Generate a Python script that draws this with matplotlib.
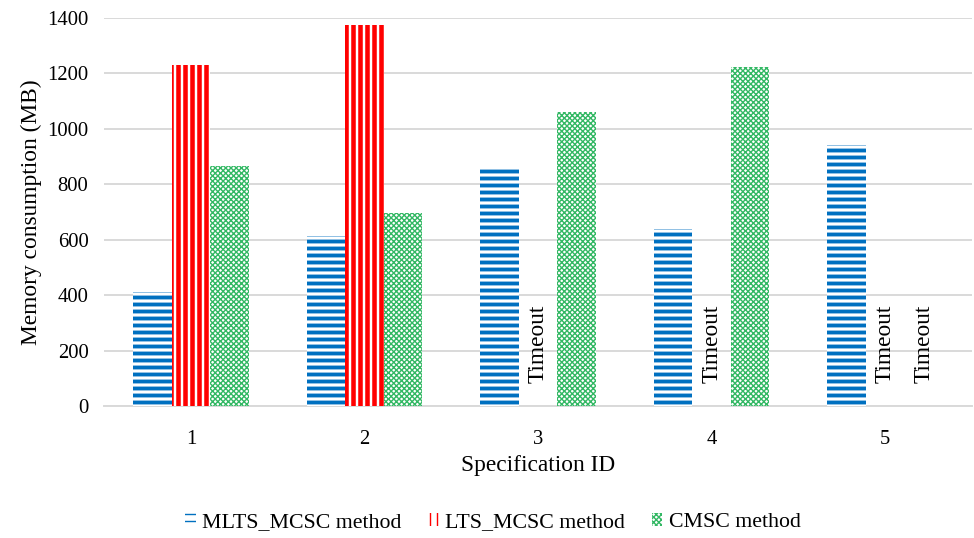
import numpy as np
import matplotlib
matplotlib.use("Agg")
import matplotlib.pyplot as plt

# data
spec_ids = ["1", "2", "3", "4", "5"]
mlts_mcsc = [413, 615, 858, 640, 942]
lts_mcsc = [1231, 1374, None, None, None]
cmsc = [865, 695, 1061, 1224, None]
series_names = ["MLTS_MCSC method", "LTS_MCSC method", "CMSC method"]

DPI = 126
plt.rcParams['font.family'] = ['Liberation Serif', 'DejaVu Serif']
plt.rcParams['font.size'] = 11.8
big = 13.4

fig = plt.figure(figsize=(974 / DPI, 538 / DPI), dpi=DPI)
ax = fig.add_axes([0.107, 0.2454, 0.891, 0.7211])

x = np.arange(len(spec_ids))
w = 0.222

styles = [
    dict(color="#0070C0", hatch="---", lw=2.2),
    dict(color="#FF0000", hatch="|||", lw=2.6),
    dict(color="#33B864", hatch="xxxxxxxx", lw=0.8),
]

handles = []
for i, (vals, st) in enumerate(zip([mlts_mcsc, lts_mcsc, cmsc], styles)):
    pos = x + (i - 1) * w
    xs = [p for p, v in zip(pos, vals) if v is not None]
    hs = [v for v in vals if v is not None]
    plt.rcParams['hatch.linewidth'] = st["lw"]
    bars = ax.bar(xs, hs, w, facecolor="white", edgecolor=st["color"],
                  hatch=st["hatch"], linewidth=0, label=series_names[i], zorder=3)
    for b in bars:
        if hasattr(b, "set_hatch_linewidth"):
            b.set_hatch_linewidth(st["lw"])
    handles.append(bars)
    # timeouts
    for p, v in zip(pos, vals):
        if v is None:
            ax.text(p, 83, "Timeout", rotation=90, ha="center", va="bottom",
                    fontsize=big, zorder=4)

ax.set_ylim(0, 1400)
ax.set_yticks(np.arange(0, 1401, 200))
ax.set_xlim(-0.5, 4.5)
ax.set_xticks(x)
ax.set_xticklabels(spec_ids)
ax.yaxis.grid(True, color="#D9D9D9", linewidth=1.1, zorder=0)
ax.set_axisbelow(True)
for s in ["top", "right", "left"]:
    ax.spines[s].set_visible(False)
ax.spines["bottom"].set_color("#D9D9D9")
ax.spines["bottom"].set_linewidth(1.1)
ax.tick_params(axis="both", length=0)
ax.tick_params(axis="y", pad=9)
ax.tick_params(axis="x", pad=14)

ax.set_ylabel("Memory consumption (MB)", fontsize=big, labelpad=3)
ax.set_xlabel("Specification ID", fontsize=big, labelpad=3)

fig.legend(handles=handles, labels=series_names, loc="center", bbox_to_anchor=(0.506, 0.028),
           ncol=3, frameon=False, fontsize=12.5, handlelength=0.5, handleheight=0.5,
           handletextpad=0.3, columnspacing=1.2)

fig.savefig("out.png", dpi=DPI)
